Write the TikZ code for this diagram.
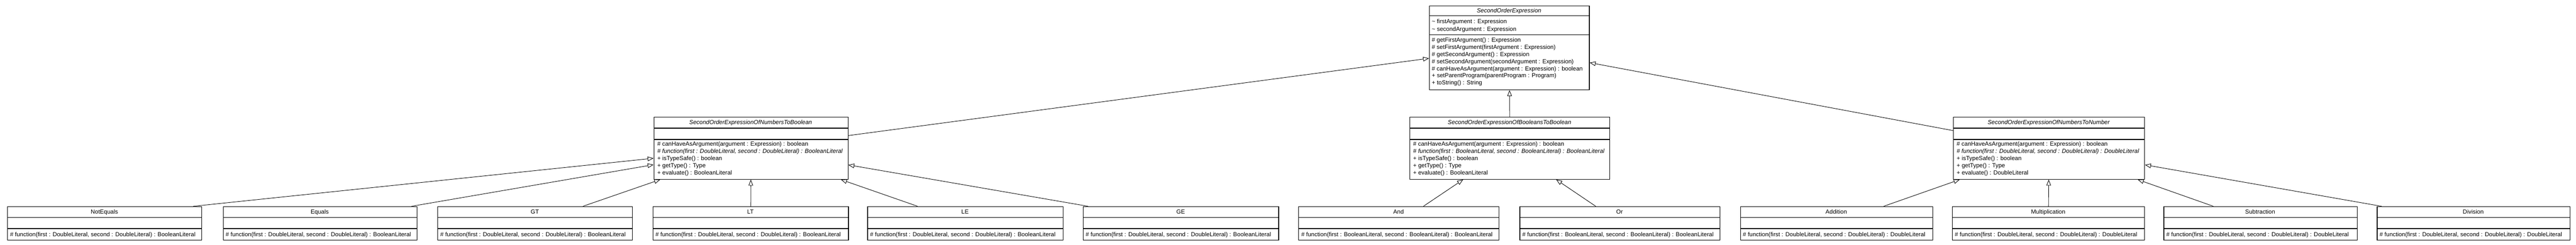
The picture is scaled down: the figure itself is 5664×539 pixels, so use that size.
\documentclass[tikz,border=0pt]{standalone}
\usepackage{fontspec}
\setmainfont{Liberation Sans}
\usetikzlibrary{arrows.meta}

\begin{document}
\begin{tikzpicture}[x=1pt,y=-1pt,
  classbox/.style={draw, line width=1.3pt, anchor=north west, inner sep=0pt},
  classname/.style={anchor=base, inner sep=0pt, font=\fontsize{13}{15.6}\selectfont},
  abstractname/.style={classname, font=\fontsize{13}{15.6}\selectfont\itshape},
  memberline/.style={anchor=base west, inner sep=0pt, font=\fontsize{13}{15.6}\selectfont},
  inherit/.style={draw, line width=1pt, -{Triangle[open, length=13pt, width=10pt]}}]

  \useasboundingbox[fill=white] (0,0) rectangle (5664,539);

  % Abstract base class
  \node[classbox, minimum width=352pt, minimum height=185pt] (SOE) at (3142,12) {};
  \draw[line width=1.3pt] (3142,35) -- (3494,35) (3142,76) -- (3494,76);
  \node[abstractname] at (3318,28) {SecondOrderExpression};
  \node[memberline] at (3148,52) {\textasciitilde{} firstArgument : Expression};
  \node[memberline] at (3148,68) {\textasciitilde{} secondArgument : Expression};
  \foreach \txt [count=\i] in {\# getFirstArgument() : Expression,
      \# setFirstArgument(firstArgument : Expression),
      \# getSecondArgument() : Expression,
      \# setSecondArgument(secondArgument : Expression),
      \# canHaveAsArgument(argument : Expression) : boolean,
      + setParentProgram(parentProgram : Program),
      + toString() : String}
    \node[memberline] at (3148,77.2+15.6*\i) {\txt};

  % Abstract intermediate classes
  \foreach \cls/\lft/\rgt/\kind/\intype/\outtype in {
      NumToBool/1437/1864/NumbersToBoolean/Double/Boolean,
      BoolToBool/3099/3539/BooleansToBoolean/Boolean/Boolean,
      NumToNum/4294/4715/NumbersToNumber/Double/Double} {
    \pgfmathsetmacro\boxw{\rgt-\lft}
    \pgfmathsetmacro\cx{(\lft+\rgt)/2}
    \node[classbox, minimum width=\boxw pt, minimum height=137pt] (\cls) at (\lft,257) {};
    \draw[line width=1.3pt] (\lft,282) -- (\rgt,282) (\lft,307) -- (\rgt,307);
    \node[abstractname] at (\cx,274) {SecondOrderExpressionOf\kind};
    \node[memberline] at (\lft+8,321.2) {\# canHaveAsArgument(argument : Expression) : boolean};
    \node[memberline, font=\fontsize{13}{15.6}\selectfont\itshape] at (\lft+8,337)
      {\# function(first : \intype Literal, second : \intype Literal) : \outtype Literal};
    \node[memberline] at (\lft+8,352.8) {+ isTypeSafe() : boolean};
    \node[memberline] at (\lft+8,368.6) {+ getType() : Type};
    \node[memberline] at (\lft+8,384.4) {+ evaluate() : \outtype Literal};
  }

  % Generalisations to the base class
  \draw[inherit] (NumToBool) -- (SOE);
  \draw[inherit] (BoolToBool) -- (SOE);
  \draw[inherit] (NumToNum) -- (SOE);

  % Concrete classes
  \foreach \cls/\lft/\rgt/\parent/\port/\intype/\outtype in {
      NotEquals/16/443/NumToBool/194.5/Double/Boolean,
      Equals/490/916/NumToBool/201/Double/Boolean,
      GT/962/1390/NumToBool/105/Double/Boolean,
      LT/1435/1865/NumToBool/0/Double/Boolean,
      LE/1907/2337/NumToBool/-105/Double/Boolean,
      GE/2381/2811/NumToBool/-204/Double/Boolean,
      And/2855/3295/BoolToBool/54/Boolean/Boolean,
      Or/3341/3781/BoolToBool/-53/Boolean/Boolean,
      Addition/3826/4249/NumToNum/103.5/Double/Double,
      Multiplication/4292/4715/NumToNum/0/Double/Double,
      Subtraction/4757/5182/NumToNum/-103.5/Double/Double,
      Division/5226/5650/NumToNum/-202/Double/Double} {
    \pgfmathsetmacro\boxw{\rgt-\lft}
    \pgfmathsetmacro\cx{(\lft+\rgt)/2}
    \node[classbox, minimum width=\boxw pt, minimum height=74pt] (\cls) at (\lft,454) {};
    \draw[line width=1.3pt] (\lft,479) -- (\rgt,479) (\lft,503) -- (\rgt,503);
    \node[classname] at (\cx,471) {\cls};
    \node[memberline] at (\lft+6,520)
      {\# function(first : \intype Literal, second : \intype Literal) : \outtype Literal};
    \draw[inherit] ([xshift=\port pt]\cls.north) -- (\parent);
  }

\end{tikzpicture}
\end{document}
